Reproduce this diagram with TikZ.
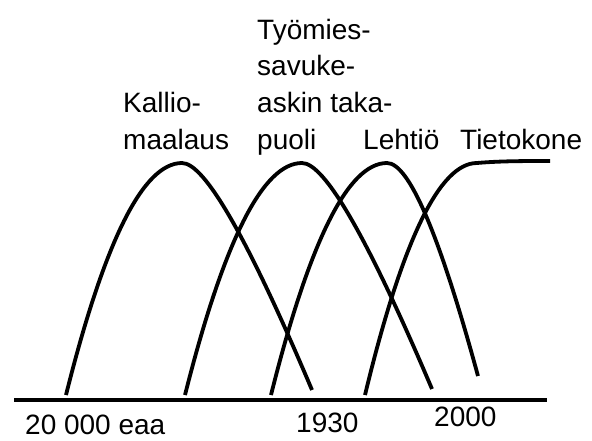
\documentclass[tikz,border=0pt]{standalone}
\usepackage{fontspec}
\setmainfont{Liberation Sans}
\begin{document}
\begin{tikzpicture}[x=1pt,y=-1pt,
  curve/.style={line width=3.8pt},
  axisline/.style={line width=4pt},
  lbl/.style={anchor=base west,inner sep=0pt,align=left,font=\fontsize{28}{37}\selectfont}]
\useasboundingbox (0,0) rectangle (592,441);
% axis
\coordinate (axL) at (14,400);
\coordinate (axR) at (547,400);
\draw[axisline] (axL) -- (axR);
% curve 1
\draw[curve] (66,395) .. controls (104.7,240.3) and (143.3,163) .. (182,163)
  .. controls (204.7,163) and (248,238.7) .. (312,390);
% curve 2
\draw[curve] (185,395) .. controls (224,240.3) and (263,163) .. (302,163)
  .. controls (324.7,163) and (368,238.3) .. (432,389);
% curve 3
\draw[curve] (271,395) .. controls (309.7,240.3) and (348.3,163) .. (387,163)
  .. controls (409,163) and (439.3,234) .. (478,376);
% curve 4
\draw[curve] (365,395) .. controls (402.3,240.3) and (439.7,163) .. (477,163)
  .. controls (500,161) and (525,161) .. (550,161);
% labels
\node[lbl] (kallio) at (123,150) {Kallio-\\maalaus};
\node[lbl] (tyomies) at (257,150) {Työmies-\\savuke-\\askin taka-\\puoli};
\node[lbl] (lehtio) at (363,150) {Lehtiö};
\node[lbl] (tieto) at (460,150) {Tietokone};
\node[lbl] (eaa) at (25,434) {20 000 eaa};
\node[lbl] (y1930) at (296,432) {1930};
\node[lbl] (y2000) at (434,426) {2000};
\end{tikzpicture}
\end{document}
